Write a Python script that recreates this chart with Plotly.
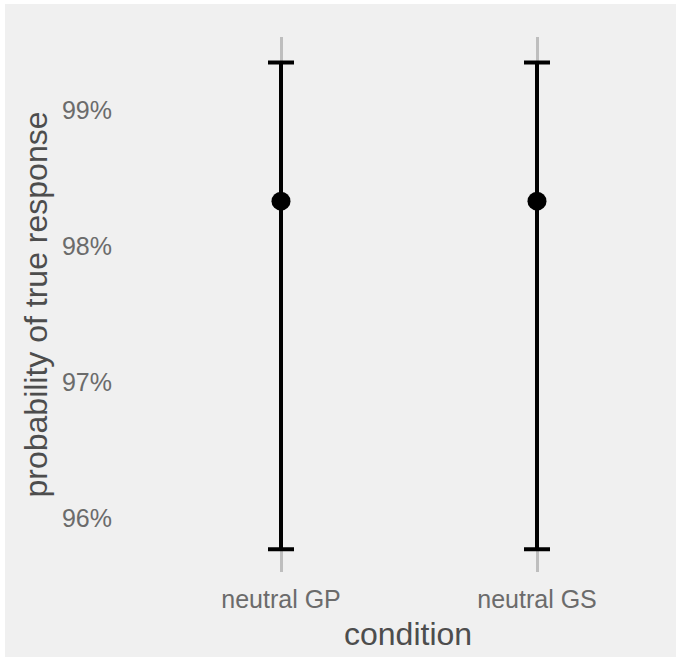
import plotly.graph_objects as go

conditions = ["neutral GP", "neutral GS"]
estimate = [98.33, 98.33]
upper = [99.35, 99.35]
lower = [95.77, 95.77]
y_ticks = [96, 97, 98, 99]
y_tick_labels = ["96%", "97%", "98%", "99%"]

BG = "#F0F0F0"
W, H = 676, 657
ML, MR, MT, MB = 127, 0, 37, 85
pw = W - ML - MR
pa_h = H - MT - MB

fig = go.Figure()
fig.add_trace(go.Scatter(
    x=conditions,
    y=estimate,
    mode="markers",
    marker=dict(color="black", size=19),
    error_y=dict(
        type="data",
        symmetric=False,
        array=[u - e for u, e in zip(upper, estimate)],
        arrayminus=[e - l for e, l in zip(estimate, lower)],
        color="black",
        thickness=4,
        width=13,
    ),
    showlegend=False,
    hoverinfo="skip",
))

fig.update_layout(
    width=W, height=H,
    margin=dict(l=ML, r=MR, t=MT, b=MB, pad=0),
    paper_bgcolor="white",
    plot_bgcolor=BG,
    font=dict(family="Liberation Sans, Arial, sans-serif"),
    shapes=[dict(
        type="rect", xref="paper", yref="paper", layer="below",
        x0=(5 - ML) / pw, x1=1.0 + 20 / pw,
        y0=-(MB + 20) / pa_h, y1=1 + (MT - 4) / pa_h,
        fillcolor=BG, line=dict(width=0),
    )],
    xaxis=dict(
        type="category",
        range=[-0.6016, 1.543],
        showgrid=True, gridcolor="#BEBEBE", gridwidth=3,
        zeroline=False, showline=False,
        ticks="outside", ticklen=5, tickcolor="rgba(0,0,0,0)",
        tickfont=dict(size=25, color="#6B6B6B"),
    ),
    yaxis=dict(
        range=[95.603, 99.537],
        tickvals=y_ticks, ticktext=y_tick_labels,
        showgrid=False, zeroline=False, showline=False,
        ticks="outside", ticklen=9, tickcolor="rgba(0,0,0,0)",
        tickfont=dict(size=25, color="#6B6B6B"),
    ),
    annotations=[
        dict(text="condition", xref="paper", yref="paper",
             x=(408 - ML) / pw, y=-(634 - (MT + pa_h)) / pa_h,
             showarrow=False, xanchor="center", yanchor="middle",
             font=dict(size=32, color="#4D4D4D")),
        dict(text="probability of true response", xref="paper", yref="paper",
             x=(35 - ML) / pw, y=0.5, textangle=-90,
             showarrow=False, xanchor="center", yanchor="middle",
             font=dict(size=32, color="#4D4D4D")),
    ],
)

fig.write_html(
    "out.html",
    config={"displayModeBar": False},
    post_script=(
        "document.body.style.margin='0';document.body.style.padding='0';"
        "document.body.style.background='#F0F0F0';"
        "document.documentElement.style.background='#F0F0F0';"
        "document.documentElement.style.overflow='hidden';"
    ),
)
